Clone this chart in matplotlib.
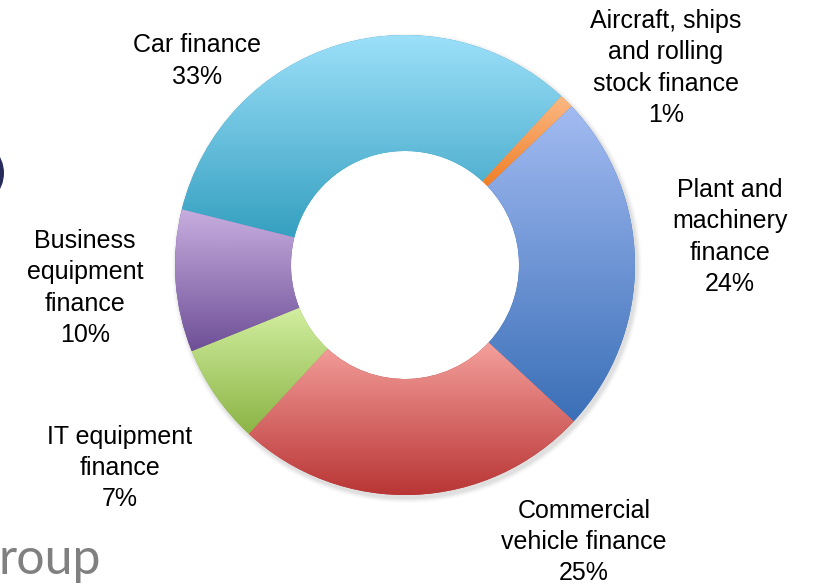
import matplotlib
matplotlib.use("Agg")
import matplotlib.pyplot as plt
import numpy as np
from matplotlib.colors import LinearSegmentedColormap
from matplotlib.patches import Circle, Wedge

plt.rcParams["font.family"] = ["Liberation Sans", "DejaVu Sans"]

categories = [
    "Car finance",
    "Aircraft, ships\nand rolling\nstock finance",
    "Plant and\nmachinery\nfinance",
    "Commercial\nvehicle finance",
    "IT equipment\nfinance",
    "Business\nequipment\nfinance",
]
shares = [33, 1, 24, 25, 7, 10]
top_colors = ["#9DE0FA", "#FBB985", "#A3BBF2", "#F4A09C", "#D2EEA0", "#C7AEDF"]
bottom_colors = ["#35A0C0", "#F07F28", "#3A6FB7", "#B93535", "#8BB445", "#6E4F97"]

# label anchor points in pixel space (x, y from top)
label_pos = [(197, 61), (666, 68), (730, 237), (584, 542), (120, 468), (85, 288)]

W, H = 814, 585
fig = plt.figure(figsize=(W / 100, H / 100), dpi=100)
ax = fig.add_axes([0, 0, 1, 1])

center = (405, H - 265)
radius = 230
hole = 114

# soft shadow round the outside of the ring
for k, a in zip(range(5, 0, -1), [0.03, 0.04, 0.05, 0.06, 0.08]):
    ax.add_patch(Wedge((center[0] + 2, center[1] - 3), radius + k, 0, 360,
                       width=radius + k - hole - 10,
                       facecolor="#808080", edgecolor="none", alpha=a, zorder=0))

wedges, _ = ax.pie(
    shares,
    center=center,
    radius=radius,
    startangle=166,
    counterclock=False,
    wedgeprops=dict(width=radius - hole, linewidth=0),
)

grad = np.linspace(0, 1, 256).reshape(-1, 1)
for w, c0, c1 in zip(wedges, bottom_colors, top_colors):
    w.set_facecolor(c0)
    w.set_zorder(1)
    ext = w.get_patch_transform().transform_path(w.get_path()).get_extents()
    cmap = LinearSegmentedColormap.from_list("g", [c0, c1])
    im = ax.imshow(grad, cmap=cmap, origin="lower", aspect="auto",
                   extent=(ext.x0, ext.x1, ext.y0, ext.y1), zorder=2,
                   interpolation="bilinear")
    im.set_clip_path(w)

for name, share, (x, y) in zip(categories, shares, label_pos):
    ax.text(x, H - y, f"{name}\n{share}%", ha="center", va="center",
            fontsize=18, color="#000000", linespacing=1.38, zorder=5)

# cropped slide decorations
ax.add_patch(Circle((-30, H - 173), 34, facecolor="#262B5C", edgecolor="none", zorder=3))
ax.text(-1, H - 574, "roup", fontsize=36, color="#808080", family=["Lato", "DejaVu Sans"],
        ha="left", va="baseline", zorder=3)

ax.set_xlim(0, W)
ax.set_ylim(0, H)
ax.set_aspect("equal")
ax.axis("off")

fig.savefig("out.png", dpi=100)
